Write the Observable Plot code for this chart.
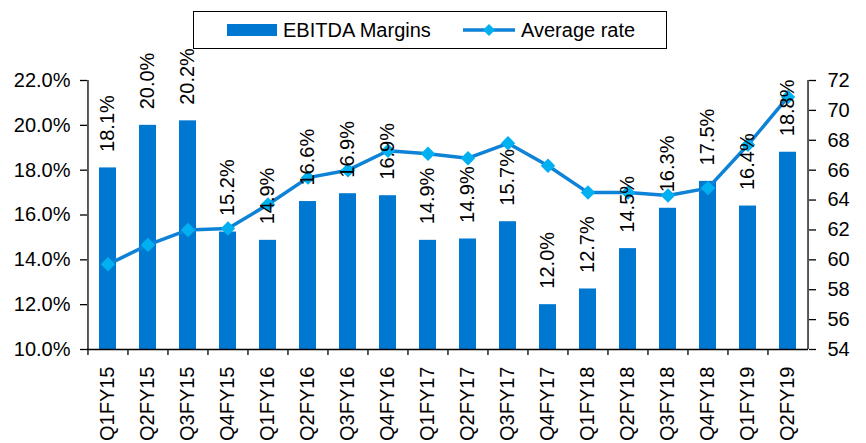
<!DOCTYPE html>
<html>
<head>
<meta charset="utf-8">
<script src="https://cdn.jsdelivr.net/npm/d3@7"></script>
<script src="https://cdn.jsdelivr.net/npm/@observablehq/plot@0.6"></script>
<style>
  html, body { margin: 0; padding: 0; background: #fff; }
  #wrap { position: relative; width: 866px; height: 443px; font-family: "Liberation Sans", Arial, sans-serif; }
  #legend { position: absolute; left: 193px; top: 11px; width: 472px; height: 36px; border: 1.5px solid #000; background: #fff; box-sizing: content-box; }
  #legend .item { position: absolute; top: 0; height: 36px; display: flex; align-items: center; font-size: 20px; color: #000; }
  #legend svg { display: block; }
</style>
</head>
<body>
<div id="wrap">
  <div id="chart"></div>
  <div id="legend">
    <div class="item" style="left:33px;"><svg width="50" height="12"><rect width="50" height="12" fill="#0078d2"></rect></svg><span style="margin-left:6px">EBITDA Margins</span></div>
    <div class="item" style="left:269px;"><svg width="52" height="14"><line x1="0" x2="52" y1="7" y2="7" stroke="#0e82d6" stroke-width="3.5"></line><path d="M26,1 L32,7 L26,13 L20,7 Z" fill="#00b0f0"></path></svg><span style="margin-left:6px">Average rate</span></div>
  </div>
</div>
<script>
const categories = ["Q1FY15","Q2FY15","Q3FY15","Q4FY15","Q1FY16","Q2FY16","Q3FY16","Q4FY16","Q1FY17","Q2FY17","Q3FY17","Q4FY17","Q1FY18","Q2FY18","Q3FY18","Q4FY18","Q1FY19","Q2FY19"];
const ebitdaMargin = [18.1, 20.0, 20.2, 15.24, 14.87, 16.6, 16.95, 16.86, 14.87, 14.93, 15.7, 12.0, 12.7, 14.5, 16.3, 17.5, 16.4, 18.8];
const averageRate = [59.7, 61.0, 62.0, 62.1, 63.7, 65.5, 66.0, 67.3, 67.1, 66.8, 67.8, 66.3, 64.5, 64.5, 64.3, 64.8, 67.7, 70.9];
const leftTicks = [10, 12, 14, 16, 18, 20, 22];
const rightTicks = [54, 56, 58, 60, 62, 64, 66, 68, 70, 72];

const leftDomain = [10, 22];
const rightDomain = [54, 72];
const toLeft = v => leftDomain[0] + (v - rightDomain[0]) * (leftDomain[1] - leftDomain[0]) / (rightDomain[1] - rightDomain[0]);
const toRight = v => rightDomain[0] + (v - leftDomain[0]) * (rightDomain[1] - rightDomain[0]) / (leftDomain[1] - leftDomain[0]);

const data = categories.map((q, i) => ({q, e: ebitdaMargin[i], r: averageRate[i]}));

const W = 866, H = 443, mL = 87, mR = 58, mT = 80, mB = 94;
const step = (W - mL - mR) / categories.length;

const barColor = "#0078d2";
const lineColor = "#0e82d6";
const dotColor = "#00b0f0";

const chart = Plot.plot({
  width: W, height: H,
  marginLeft: mL, marginRight: mR, marginTop: mT, marginBottom: mB,
  style: {fontFamily: "'Liberation Sans', Arial, sans-serif", fontSize: "20px", color: "#000", background: "transparent", overflow: "visible"},
  x: {domain: categories, paddingInner: 0.58, paddingOuter: 0.25, label: null},
  y: {domain: leftDomain, label: null},
  marks: [
    Plot.barY(data, {x: "q", y1: leftDomain[0], y2: "e", fill: barColor}),
    Plot.ruleX([categories[0]], {x: d => d, dx: -step / 2, y1: leftDomain[0], y2: leftDomain[1], stroke: "#000", strokeWidth: 1.3}),
    Plot.ruleX([categories[categories.length - 1]], {x: d => d, dx: step / 2, y1: leftDomain[0], y2: leftDomain[1], stroke: "#000", strokeWidth: 1.3}),
    Plot.ruleY([leftDomain[0]], {stroke: "#000", strokeWidth: 1.3}),
    Plot.axisY({anchor: "left", ticks: leftTicks, tickFormat: d => d.toFixed(1) + "%", tickSize: 7, tickPadding: 10, label: null, strokeWidth: 1.3, fontSize: 20}),
    Plot.axisY({anchor: "right", ticks: rightTicks.map(toLeft), tickFormat: d => String(Math.round(toRight(d))), tickSize: 7, tickPadding: 12, label: null, strokeWidth: 1.3, fontSize: 20}),
    Plot.axisX({anchor: "bottom", tickSize: 6, tickFormat: () => "", dx: -step / 2, label: null, strokeWidth: 1.3}),
    Plot.axisX({anchor: "bottom", tickSize: 0, tickRotate: -90, tickPadding: 17, label: null, fontSize: 20}),
    Plot.line(data, {x: "q", y: d => toLeft(d.r), stroke: lineColor, strokeWidth: 3.5}),
    Plot.dot(data, {x: "q", y: d => toLeft(d.r), symbol: "diamond2", r: 6.5, fill: dotColor, stroke: "none"}),
    Plot.text(data, {x: "q", y: "e", text: d => d.e.toFixed(1) + "%", rotate: -90, textAnchor: "start", dy: -16, fontSize: 20, fill: "#000"})
  ]
});
document.getElementById("chart").appendChild(chart);
</script>
</body>
</html>
